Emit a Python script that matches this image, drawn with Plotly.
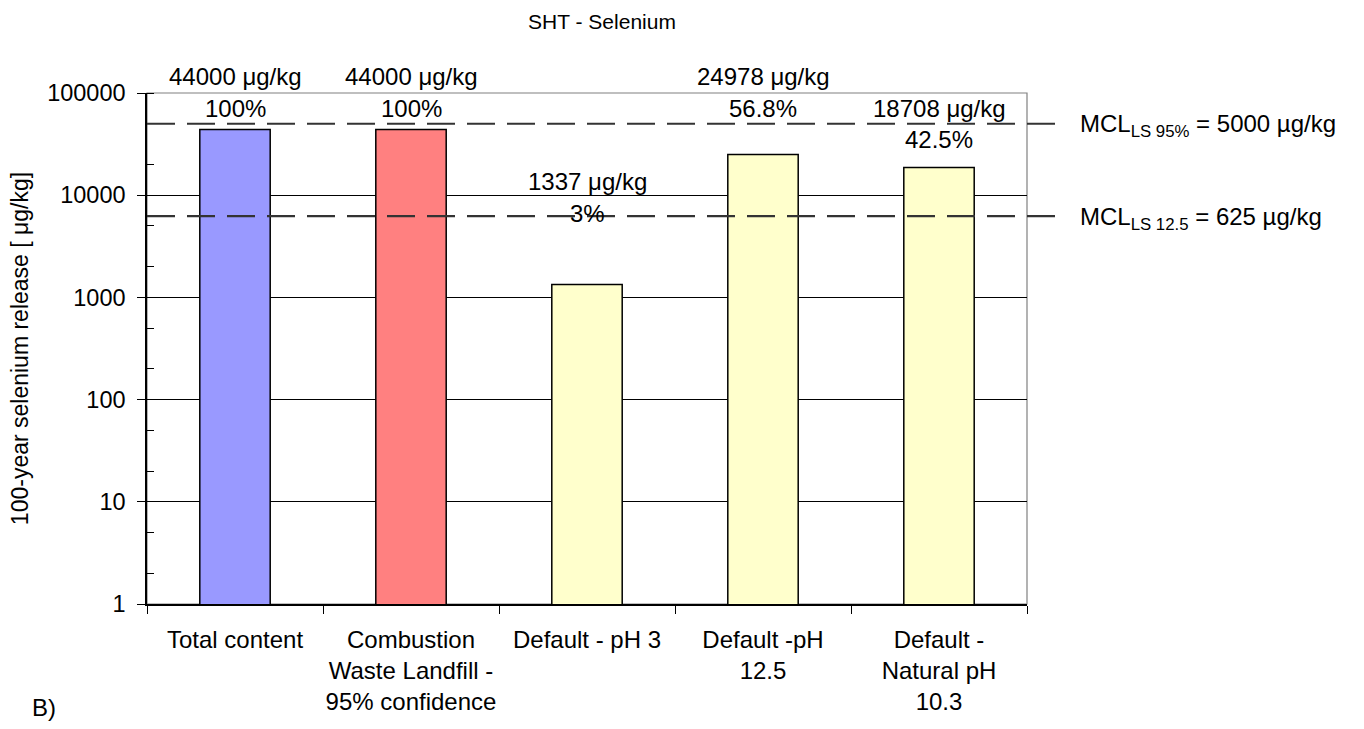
import math
import plotly.graph_objects as go

# Chart data
categories = [
    "Total content",
    "Combustion<br>Waste Landfill -<br>95% confidence",
    "Default - pH 3",
    "Default -pH<br>12.5",
    "Default -<br>Natural pH<br>10.3",
]
release = [44000, 44000, 1337, 24978, 18708]
percent_labels = ["100%", "100%", "3%", "56.8%", "42.5%"]
bar_colors = ["#9999FF", "#FF8080", "#FFFFCC", "#FFFFCC", "#FFFFCC"]

# Limit lines (plotted level and their labels)
mcl_levels = [50000, 6250]
mcl_labels = [
    "MCL<sub>LS 95%</sub> = 5000 µg/kg",
    "MCL<sub>LS 12.5</sub> = 625 µg/kg",
]

y_tickvals = [1, 10, 100, 1000, 10000, 100000]
y_ticktext = ["1", "10", "100", "1000", "10000", "100000"]

# Vertical offsets (px) of the value / percent labels above each bar top
value_shift = [53, 53, 103, 78, 59]
pct_shift = [21, 21, 71, 46, 28]

FONT = "Liberation Sans, Arial, sans-serif"
FS = 24

fig = go.Figure()
fig.add_trace(go.Bar(
    x=categories,
    y=release,
    marker=dict(color=bar_colors, line=dict(color="black", width=1.5)),
    width=0.4,
    showlegend=False,
    hoverinfo="x+y",
))

annotations = []
for cat, val, pct, vs, ps in zip(categories, release, percent_labels, value_shift, pct_shift):
    annotations.append(dict(
        x=cat, y=math.log10(val), xref="x", yref="y",
        text=f"{val} μg/kg", showarrow=False, yanchor="middle",
        yshift=vs, font=dict(size=FS, color="black", family=FONT),
    ))
    annotations.append(dict(
        x=cat, y=math.log10(val), xref="x", yref="y",
        text=pct, showarrow=False, yanchor="middle",
        yshift=ps, font=dict(size=FS, color="black", family=FONT),
    ))

shapes = []
for lvl, lab in zip(mcl_levels, mcl_labels):
    shapes.append(dict(
        type="line", xref="paper", yref="y", x0=0.0, x1=1.04, y0=lvl, y1=lvl,
        line=dict(color="#333333", width=2.2, dash="28px,12px"), layer="above",
    ))
    annotations.append(dict(
        x=1.058, y=math.log10(lvl), xref="paper", yref="y",
        text=lab, showarrow=False, xanchor="left", yanchor="middle", yshift=-2,
        font=dict(size=FS, color="black", family=FONT),
    ))

# Plot-area border
shapes.append(dict(
    type="rect", xref="paper", yref="paper", x0=0, x1=1, y0=0, y1=1,
    line=dict(color="#808080", width=1.2), layer="below",
))

# Panel tag in the lower-left corner
annotations.append(dict(
    x=(30 - 147) / 880, y=(604 - 707) / 511, xref="paper", yref="paper",
    text="B)", showarrow=False, xanchor="left", yanchor="middle",
    font=dict(size=FS, color="black", family=FONT),
))

fig.update_layout(
    width=1364, height=729,
    margin=dict(l=147, r=337, t=93, b=125),
    paper_bgcolor="white", plot_bgcolor="white",
    font=dict(family=FONT, size=FS, color="black"),
    title=dict(
        text="SHT - Selenium", xref="container", yref="container",
        x=602 / 1364, y=1 - 22 / 729, xanchor="center", yanchor="middle",
        font=dict(size=21, color="black", family=FONT),
    ),
    bargap=0.6,
    shapes=shapes,
    annotations=annotations,
)

fig.update_xaxes(
    type="category", tickson="boundaries", ticks="outside", ticklen=8,
    tickcolor="black", tickwidth=1.2, showline=True, linecolor="black",
    linewidth=1.5, showgrid=False, tickangle=0, automargin=False,
    ticklabelstandoff=13,
    tickfont=dict(size=24, color="black", family=FONT),
)
fig.update_yaxes(
    type="log", range=[0, 5], tickvals=y_tickvals, ticktext=y_ticktext,
    ticks="outside", ticklen=8, tickcolor="black", tickwidth=1.2,
    showline=True, linecolor="black", linewidth=1.5, automargin=False,
    ticklabelstandoff=7,
    showgrid=True, gridcolor="black", gridwidth=1,
    minor=dict(ticks="inside", ticklen=7, tickcolor="black", tickwidth=1,
               showgrid=False),
    tickfont=dict(size=23.5, color="black", family=FONT),
    title=dict(text="100-year selenium release [ μg/kg]", standoff=12,
               font=dict(size=23, color="black", family=FONT)),
)

fig.write_html("out.html")
